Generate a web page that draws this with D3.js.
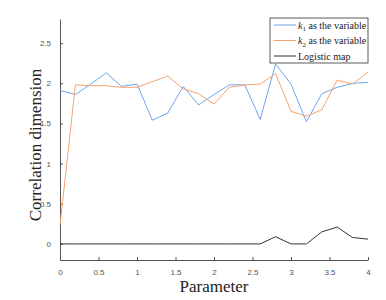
<!DOCTYPE html>
<html>
<head>
<meta charset="utf-8">
<script src="https://cdn.jsdelivr.net/npm/d3@7"></script>
<style>
  body { margin: 0; background: #fff; }
  .tick text { font-family: "Liberation Sans", Arial, sans-serif; font-size: 8px; fill: #555; }
  .axis path, .axis line { stroke: #555; }
  .chart-label { font-family: "Liberation Serif", "Times New Roman", serif; font-size: 17px; fill: #222; }
  .legend-text { font-family: "Liberation Serif", "Times New Roman", serif; font-size: 10px; fill: #222; }
</style>
</head>
<body>
<div id="chart"></div>
<script>
// Correlation dimension vs parameter
var params = [0, 0.2, 0.4, 0.6, 0.8, 1, 1.2, 1.4, 1.6, 1.8, 2, 2.2, 2.4, 2.6, 2.8, 3, 3.2, 3.4, 3.6, 3.8, 4];
var k1Values = [1.91, 1.86, 1.99, 2.13, 1.96, 1.99, 1.54, 1.63, 1.96, 1.73, 1.86, 1.98, 1.98, 1.55, 2.24, 1.99, 1.52, 1.87, 1.95, 2.0, 2.01];
var k2Values = [0.23, 1.98, 1.97, 1.97, 1.95, 1.95, 2.02, 2.09, 1.93, 1.87, 1.74, 1.95, 1.98, 1.99, 2.12, 1.65, 1.59, 1.67, 2.04, 1.99, 2.14];
var logisticValues = [0, 0, 0, 0, 0, 0, 0, 0, 0, 0, 0, 0, 0, 0, 0.09, 0, 0, 0.15, 0.21, 0.08, 0.06];
var xTicks = [0, 0.5, 1, 1.5, 2, 2.5, 3, 3.5, 4];
var yTicks = [0, 0.5, 1, 1.5, 2, 2.5];

var series = [
    { name: "1", values: k1Values, colour: "#6ea6f2" },
    { name: "2", values: k2Values, colour: "#f5a26c" },
    { name: "Logistic map", values: logisticValues, colour: "#333" }
];

var fullWidth = 386, fullHeight = 300;
var margin = { top: 19, right: 18, bottom: 40, left: 60 },
    width = fullWidth - margin.left - margin.right,
    height = fullHeight - margin.top - margin.bottom;

var svg = d3.select("#chart").append("svg")
    .attr("width", fullWidth)
    .attr("height", fullHeight)
    .append("g")
    .attr("transform", "translate(" + margin.left + "," + margin.top + ")");

var scaleX = d3.scaleLinear().domain([0, 4]).range([0, width]);
var scaleY = d3.scaleLinear().domain([-0.2, 2.8]).range([height, 0]);

// X axis (ticks inward)
svg.append("g")
    .attr("class", "axis")
    .attr("transform", "translate(0," + height + ")")
    .call(d3.axisBottom(scaleX).tickValues(xTicks).tickSize(-3).tickPadding(9).tickSizeOuter(0)
        .tickFormat(function (d) { return d; }));

// Y axis
svg.append("g")
    .attr("class", "axis")
    .call(d3.axisLeft(scaleY).tickValues(yTicks).tickSize(-3).tickPadding(9).tickSizeOuter(0)
        .tickFormat(function (d) { return d; }));

svg.selectAll(".axis .domain").attr("stroke", "#555");

var line = d3.line()
    .x(function (d, i) { return scaleX(params[i]); })
    .y(function (d) { return scaleY(d); });

series.forEach(function (s) {
    svg.append("path")
        .datum(s.values)
        .attr("fill", "none")
        .attr("stroke", s.colour)
        .attr("stroke-width", 1)
        .attr("d", line);
});

// Axis labels
svg.append("text")
    .attr("class", "chart-label")
    .attr("x", width / 2)
    .attr("y", fullHeight - margin.top - 8)
    .style("text-anchor", "middle")
    .text("Parameter");

svg.append("text")
    .attr("class", "chart-label")
    .attr("transform", "rotate(-90)")
    .attr("x", -(126))
    .attr("y", -19)
    .style("text-anchor", "middle")
    .text("Correlation dimension");

// Legend
var legend = svg.append("g")
    .attr("class", "legend")
    .attr("transform", "translate(" + (width - 98) + ", -1)");

legend.append("rect")
    .attr("width", 98)
    .attr("height", 45)
    .attr("fill", "#fff")
    .attr("stroke", "#333")
    .attr("stroke-width", 0.8);

series.forEach(function (s, i) {
    var ly = 7 + i * 15.5;
    legend.append("line")
        .attr("x1", 4).attr("x2", 26)
        .attr("y1", ly).attr("y2", ly)
        .attr("stroke", s.colour);
    var t = legend.append("text")
        .attr("class", "legend-text")
        .attr("x", 28)
        .attr("y", ly + 3.5);
    if (i < 2) {
        t.append("tspan").style("font-style", "italic").text("k");
        t.append("tspan").attr("dy", 2.5).style("font-size", "7px").text(s.name);
        t.append("tspan").attr("dy", -2.5).text(" as the variable");
    } else {
        t.text(s.name);
    }
});
</script>
</body>
</html>
